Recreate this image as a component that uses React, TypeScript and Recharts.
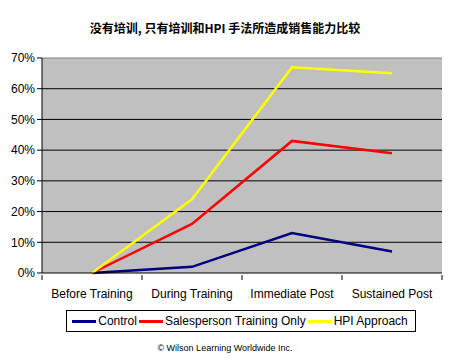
import { LineChart, Line, XAxis, YAxis, CartesianGrid, ReferenceLine } from "recharts";

const stages = ["Before Training", "During Training", "Immediate Post", "Sustained Post"];
const control = [0, 2, 13, 7];
const salesperson = [0, 16, 43, 39];
const hpi = [0, 24, 67, 65];
const yTicks = [0, 10, 20, 30, 40, 50, 60, 70];
const innerGrid = [10, 20, 30, 40, 50, 60];

const data = stages.map((stage, i) => ({
    stage,
    control: control[i],
    salesperson: salesperson[i],
    hpi: hpi[i],
}));

const series = [
    { key: "control", name: "Control", color: "#000080" },
    { key: "salesperson", name: "Salesperson Training Only", color: "#ff0000" },
    { key: "hpi", name: "HPI Approach", color: "#ffff00" },
];

const font = "'Liberation Sans', Arial, sans-serif";

function StageTick({ x, y, payload, index, visibleTicksCount }: any) {
    const half = 50;
    return (
        <g>
            <line x1={x - half} y1={y} x2={x - half} y2={y + 5} stroke="#000" />
            {index === visibleTicksCount - 1 && (
                <line x1={x + half} y1={y} x2={x + half} y2={y + 5} stroke="#000" />
            )}
            <text x={x} y={y + 23} textAnchor="middle" fontSize={12} fontFamily={font} fill="#000">
                {payload.value}
            </text>
        </g>
    );
}

function LegendBox() {
    return (
        <div
            style={{
                position: "absolute",
                top: 310,
                left: 66,
                width: 348,
                height: 20,
                border: "1px solid #000",
                display: "flex",
                alignItems: "center",
                justifyContent: "center",
                fontFamily: font,
                fontSize: 12,
                color: "#000",
                background: "#fff",
            }}
        >
            {series.map((s) => (
                <span key={s.key} style={{ display: "flex", alignItems: "center", marginRight: 2 }}>
                    <span style={{ display: "inline-block", width: 24, height: 3, background: s.color, marginRight: 2 }} />
                    {s.name}
                </span>
            ))}
        </div>
    );
}

export default function App() {
    return (
        <div style={{ position: "absolute", left: 0, top: 0, width: 450, height: 361, background: "#fff" }}>
            <div
                style={{
                    position: "absolute",
                    top: 19,
                    width: 450,
                    textAlign: "center",
                    fontFamily: "'Noto Sans CJK SC', sans-serif",
                    fontWeight: "bold",
                    fontSize: 12,
                    color: "#000",
                }}
            >
                没有培训, 只有培训和HPI 手法所造成销售能力比较
            </div>
            <LineChart width={450} height={361} data={data} margin={{ top: 58, right: 8, bottom: 68, left: 0 }}>
                <CartesianGrid
                    vertical={false}
                    stroke="#000"
                    fill="#c0c0c0"
                    strokeOpacity={1}
                    horizontalValues={innerGrid}
                />
                <XAxis
                    dataKey="stage"
                    padding={{ left: 50, right: 50 }}
                    stroke="#000"
                    tickLine={false}
                    tickSize={0}
                    height={20}
                    tick={<StageTick />}
                    interval={0}
                />
                <YAxis
                    domain={[0, 70]}
                    ticks={yTicks}
                    width={42}
                    stroke="#000"
                    tickSize={5}
                    tickFormatter={(v) => `${v}%`}
                    tick={{ fontSize: 12, fontFamily: font, fill: "#000" }}
                />
                <ReferenceLine y={70} stroke="#808080" />
                {series.map((s) => (
                    <Line
                        key={s.key}
                        dataKey={s.key}
                        name={s.name}
                        stroke={s.color}
                        strokeWidth={2.5}
                        dot={false}
                        isAnimationActive={false}
                    />
                ))}
            </LineChart>
            <LegendBox />
            <div
                style={{
                    position: "absolute",
                    top: 343,
                    width: 450,
                    textAlign: "center",
                    fontFamily: font,
                    fontSize: 9,
                    color: "#000",
                }}
            >
                © Wilson Learning Worldwide Inc.
            </div>
        </div>
    );
}
